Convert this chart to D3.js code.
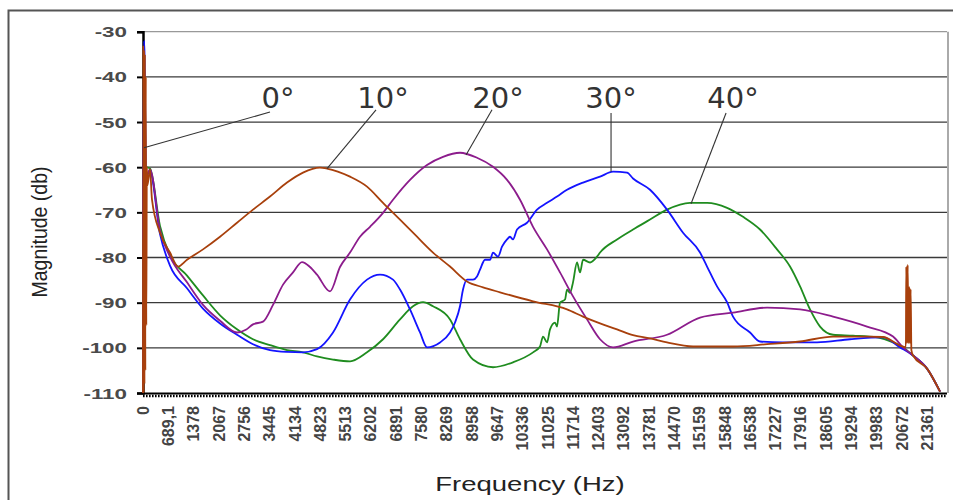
<!DOCTYPE html>
<html>
<head>
<meta charset="utf-8">
<script src="https://cdn.jsdelivr.net/npm/d3@7.9.0/dist/d3.min.js"></script>
<style>
  body { margin: 0; background: #fff; }
  svg { display: block; }
</style>
</head>
<body>
<div id="chart"></div>
<script>
// values: [frequency Hz, magnitude dB]
const yTicks = [-30, -40, -50, -60, -70, -80, -90, -100, -110];
const xTickLabels = ['0', '689,1', '1378', '2067', '2756', '3445', '4134', '4823', '5513', '6202',
  '6891', '7580', '8269', '8958', '9647', '10336', '11025', '11714', '12403', '13092', '13781',
  '14470', '15159', '15848', '16538', '17227', '17916', '18605', '19294', '19983', '20672', '21361'];
const xTickStep = 689.06;

const brown10 = [
  [0, -110], [8, -33], [18, -110], [28, -34], [40, -108], [52, -35], [64, -105], [76, -40], [90, -95],
  [105, -60], [120, -64],
  [191, -60.5], [245, -67.2], [463, -74.5], [735, -78.9], [953, -82.0], [1199, -80.5], [1634, -78.2],
  [2098, -75.4], [2561, -72.3], [2996, -69.4], [3459, -66.5], [3923, -63.4], [4358, -61.2], [4821, -60.1],
  [5012, -60.3], [5639, -62.1], [6102, -64.3], [6538, -67.9], [7001, -71.6], [7464, -75.4], [7900, -78.9],
  [8363, -82.0], [8826, -85.3], [9262, -86.6], [9725, -87.7], [10624, -89.7], [11550, -91.5], [11986, -93.1],
  [12449, -94.6], [12912, -95.9], [13348, -97.2], [13811, -97.9], [14274, -98.8], [14982, -99.7], [16072, -99.7],
  [16998, -99.2], [17897, -98.6], [18796, -97.5], [19722, -97.5], [20158, -97.6], [20621, -99.5], [20780, -99.9],
  [20790, -82], [20810, -99], [20830, -81.6], [20850, -99], [20870, -86.5], [20890, -99], [20910, -87],
  [20930, -100.5], [20975, -101.7], [21356, -104.6], [21711, -109.7]
];

const purple20 = [
  [0, -110], [30, -36], [50, -47], [80, -62],
  [191, -60.5], [463, -74.0], [735, -79.8], [1199, -85.5], [1634, -90.5], [2098, -94.0], [2561, -96.6],
  [2800, -96.0], [2996, -94.8], [3269, -94.2], [3541, -90.5], [3814, -86.0], [4086, -83.3], [4331, -81.0],
  [4549, -82.1], [4740, -83.8], [5094, -87.5], [5366, -82.1], [5639, -78.9], [5911, -75.4], [6184, -73.2],
  [6538, -70.1], [6810, -67.2], [7273, -62.8], [7736, -59.5], [8172, -57.7], [8635, -56.8], [9098, -57.9],
  [9534, -59.9], [9916, -62.8], [10270, -67.2], [10624, -73.2], [11005, -78.2], [11359, -83.3], [11713, -88.6],
  [12095, -93.7], [12449, -98.1], [12803, -99.9], [13348, -98.6], [14274, -97.1], [15173, -93.3], [16072, -92.2],
  [16998, -91.1], [17897, -91.5], [18796, -93.1], [19722, -95.3], [20430, -97.5], [20703, -99.9], [20975, -101.7],
  [21356, -104.6], [21711, -109.7]
];

const blue30 = [
  [0, -76], [30, -32], [45, -36], [60, -47], [80, -62],
  [191, -61.0], [463, -74.8], [735, -81.8], [1199, -86.8], [1634, -91.3], [2098, -94.6], [2561, -97.1],
  [2996, -99.2], [3459, -100.5], [3923, -100.9], [4358, -101.0], [4740, -100.3], [5176, -96.6], [5639, -89.3],
  [6102, -84.9], [6456, -83.8], [6810, -84.9], [7001, -87.1], [7273, -91.5], [7546, -96.6], [7736, -99.9],
  [8091, -98.8], [8363, -96.6], [8499, -94.4], [8635, -90.8], [8717, -87.1], [8826, -84.9], [8989, -84.9],
  [9098, -84.2], [9180, -82.7], [9316, -80.5], [9452, -80.5], [9534, -78.9], [9670, -79.8], [9779, -77.6],
  [9916, -76.0], [9997, -75.4], [10079, -76.0], [10188, -73.8], [10460, -72.3], [10733, -69.4], [11005, -67.9],
  [11277, -66.5], [11550, -65.0], [11986, -63.4],
  [12449, -62.1], [12803, -61.0], [13184, -61.2], [13348, -62.5], [13811, -65.0], [14274, -69.4], [14710, -74.5],
  [15173, -78.9], [15364, -82.0], [15636, -86.4], [15909, -89.9], [16072, -93.1], [16535, -96.6], [16807, -98.6],
  [17434, -98.8], [18360, -98.8], [19259, -98.1], [20158, -97.7], [20621, -99.9], [20975, -101.7], [21356, -104.6],
  [21711, -109.7]
];

const green40 = [
  [0, -110], [20, -60], [40, -63], [80, -60],
  [191, -60.3], [463, -73.0], [735, -79.5], [1199, -84.0], [1634, -88.4], [2098, -92.8], [2561, -95.9],
  [2996, -98.1], [3459, -99.4], [3923, -100.5], [4358, -101.0], [4740, -101.9], [5176, -102.6], [5639, -103.0],
  [6102, -101.0], [6538, -98.1], [7001, -93.7], [7355, -90.8], [7627, -89.9], [7900, -90.8], [8363, -93.7],
  [8635, -98.1], [8989, -102.6], [9534, -104.3], [10079, -103.2], [10624, -101.0], [10814, -99.7], [10896, -97.5],
  [11005, -98.8], [11087, -95.9], [11223, -94.4], [11277, -95.3], [11359, -90.0], [11495, -89.3], [11550, -87.1],
  [11631, -87.8], [11713, -85.5], [11822, -81.1], [11904, -83.3], [11986, -80.5], [12177, -81.1], [12367, -79.8],
  [12449, -78.9], [12912, -76.0], [13348, -73.8], [13811, -71.6], [14274, -69.4], [14900, -67.9], [15364, -67.9],
  [15909, -69.0], [16344, -71.0], [16807, -73.8], [17270, -78.2], [17624, -82.0], [17897, -86.4], [18169, -91.5],
  [18442, -95.3], [18796, -97.1], [19341, -97.3], [19994, -97.7], [20430, -98.8], [20703, -99.9], [20975, -101.7],
  [21356, -104.6], [21711, -109.7]
];

// angle annotations: text position, leader line start and end (Hz, dB)
const angleLabels = ['0°', '10°', '20°', '30°', '40°'];
const labelPos = [[3677, -46.9], [6538, -46.9], [9670, -46.9], [12749, -46.9], [16072, -46.9]];
const leaderFrom = [[3459, -47.8], [6347, -47.3], [9507, -47.3], [12749, -48.0], [15882, -48.0]];
const leaderTo = [[27, -55.7], [5012, -60.3], [8799, -57.3], [12749, -61.0], [14928, -68.1]];

const width = 953;
const height = 500;

const svg = d3.select('#chart')
  .append('svg')
  .attr('width', width)
  .attr('height', height);

// outer frame
svg.append('rect')
  .attr('x', 8.5).attr('y', 10.5)
  .attr('width', 980).attr('height', 520)
  .attr('fill', 'none')
  .attr('stroke', '#555')
  .attr('stroke-width', 2);

const xScale = d3.scaleLinear().domain([0, 21900]).range([143, 947]);
const yScale = d3.scaleLinear().domain([-110, -30]).range([393, 31.7]);

// gridlines
svg.append('g')
  .selectAll('line')
  .data(yTicks.filter(d => d > -110))
  .join('line')
  .attr('x1', xScale(0)).attr('x2', xScale(21900))
  .attr('y1', d => yScale(d)).attr('y2', d => yScale(d))
  .attr('stroke', d => d === -30 ? '#999' : '#3a3a3a')
  .attr('stroke-width', 1.3);

// right border of plot
svg.append('line')
  .attr('x1', xScale(21900) + 1).attr('x2', xScale(21900) + 1)
  .attr('y1', yScale(-30)).attr('y2', yScale(-110))
  .attr('stroke', '#aaa')
  .attr('stroke-width', 2);

// y axis
const yAxis = d3.axisLeft(yScale)
  .tickValues(yTicks)
  .tickSize(6)
  .tickPadding(10)
  .tickFormat(d3.format('d'));

const gy = svg.append('g')
  .attr('transform', `translate(${xScale(0)},0)`)
  .call(yAxis);
gy.select('.domain').attr('stroke', '#000').attr('stroke-width', 2.5);
gy.selectAll('.tick line').attr('stroke', '#000').attr('stroke-width', 2);
gy.selectAll('.tick text')
  .attr('x', null).attr('dy', null)
  .attr('transform', 'translate(-16,5) scale(1.6,1)')
  .attr('font-family', 'Liberation Sans, Arial, sans-serif')
  .attr('font-size', 14)
  .attr('font-weight', 'bold')
  .attr('fill', '#4a4a4a')
  .text(d => d);

// x axis line with dense tick marks
svg.append('line')
  .attr('x1', xScale(0)).attr('x2', xScale(21900))
  .attr('y1', yScale(-110) + 0.5).attr('y2', yScale(-110) + 0.5)
  .attr('stroke', '#000').attr('stroke-width', 2);
svg.append('line')
  .attr('x1', xScale(0)).attr('x2', xScale(21900))
  .attr('y1', yScale(-110) + 3).attr('y2', yScale(-110) + 3)
  .attr('stroke', '#000').attr('stroke-width', 2.5)
  .attr('stroke-dasharray', '1.6 1.4');

// x tick labels
svg.append('g')
  .selectAll('text')
  .data(xTickLabels)
  .join('text')
  .attr('transform', (d, i) => `translate(${xScale(i * xTickStep)},406) rotate(-90)`)
  .attr('text-anchor', 'end')
  .attr('dy', '0.36em')
  .attr('font-family', 'Liberation Sans, Arial, sans-serif')
  .attr('font-size', 16)
  .attr('font-weight', 'bold')
  .attr('fill', '#444')
  .text(d => d);

// axis titles
svg.append('text')
  .attr('transform', 'translate(47,232) scale(1.2,1) rotate(-90)')
  .attr('text-anchor', 'middle')
  .attr('font-family', 'Liberation Sans, Arial, sans-serif')
  .attr('font-size', 19)
  .attr('textLength', 131)
  .attr('lengthAdjust', 'spacingAndGlyphs')
  .attr('fill', '#222')
  .text('Magnitude (db)');

svg.append('text')
  .attr('transform', 'translate(530,491) scale(1.31,1)')
  .attr('text-anchor', 'middle')
  .attr('font-family', 'Liberation Sans, Arial, sans-serif')
  .attr('font-size', 21)
  .attr('fill', '#222')
  .text('Frequency (Hz)');

// curves
const line = d3.line()
  .x(d => xScale(d[0]))
  .y(d => yScale(d[1]))
  .curve(d3.curveMonotoneX);

const series = [
  { values: green40, color: '#1f8c1f' },
  { values: blue30, color: '#1414ff' },
  { values: purple20, color: '#8c1c8c' },
  { values: brown10, color: '#a8400c' },
];

svg.append('g')
  .selectAll('path')
  .data(series)
  .join('path')
  .attr('d', d => line(d.values))
  .attr('fill', 'none')
  .attr('stroke', d => d.color)
  .attr('stroke-width', 1.8)
  .attr('stroke-linejoin', 'round');

// leader lines and angle labels
const ann = svg.append('g');
ann.selectAll('line')
  .data(angleLabels)
  .join('line')
  .attr('x1', (d, i) => xScale(leaderFrom[i][0]))
  .attr('y1', (d, i) => yScale(leaderFrom[i][1]))
  .attr('x2', (d, i) => xScale(leaderTo[i][0]))
  .attr('y2', (d, i) => yScale(leaderTo[i][1]))
  .attr('stroke', '#333')
  .attr('stroke-width', 1.1);

ann.selectAll('text')
  .data(angleLabels)
  .join('text')
  .attr('x', (d, i) => xScale(labelPos[i][0]))
  .attr('y', (d, i) => yScale(labelPos[i][1]))
  .attr('text-anchor', 'middle')
  .attr('font-family', 'DejaVu Sans, Verdana, sans-serif')
  .attr('font-size', 29)
  .attr('fill', '#333')
  .text(d => d);
</script>
</body>
</html>
